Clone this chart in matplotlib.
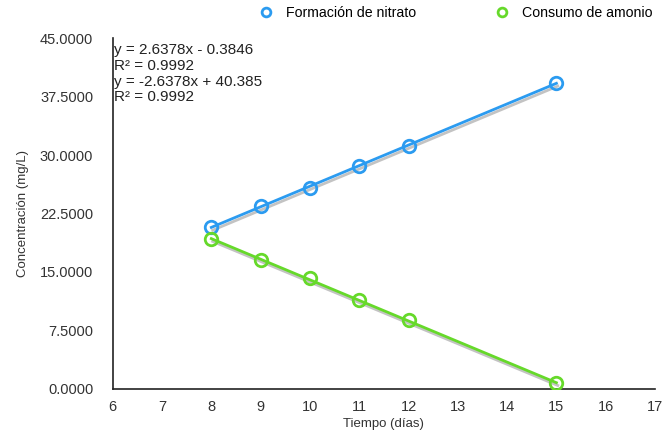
import numpy as np
import matplotlib.pyplot as plt
import matplotlib.patheffects as pe
from matplotlib.ticker import FormatStrFormatter

plt.rcParams['font.family'] = ['Liberation Sans', 'DejaVu Sans']

# datos
dias = [8, 9, 10, 11, 12, 15]
nitrato = [20.8, 23.5, 25.8, 28.6, 31.2, 39.3]
amonio = [19.2, 16.5, 14.2, 11.4, 8.8, 0.7]

azul = '#2b9bf0'
verde = '#66d92a'

fig = plt.figure(figsize=(6.67, 4.38), dpi=100)
ax = fig.add_axes([0.169, 0.112, 0.813, 0.801])

# lineas de tendencia
for y, c in [(nitrato, azul), (amonio, verde)]:
    m, b = np.polyfit(dias, y, 1)
    xs = np.array([min(dias), max(dias)])
    ax.plot(xs, m * xs + b, color=c, lw=2, zorder=2,
            path_effects=[pe.SimpleLineShadow(offset=(1, -2), shadow_color='#888888', alpha=0.5),
                          pe.Normal()])

ax.plot(dias, nitrato, 'o', mfc='none', mec=azul, mew=2, ms=9, zorder=3, label='Formación de nitrato')
ax.plot(dias, amonio, 'o', mfc='none', mec=verde, mew=2, ms=9, zorder=3, label='Consumo de amonio')

ax.set_xlim(6, 17)
ax.set_ylim(0, 45)
ax.set_xticks(range(6, 18))
ax.set_yticks(np.arange(0, 45.1, 7.5))
ax.yaxis.set_major_formatter(FormatStrFormatter('%.4f'))
ax.tick_params(length=0, labelsize=10.5, colors='#333333')
ax.tick_params(axis='y', pad=14)
ax.tick_params(axis='x', pad=8)
for s in ['top', 'right']:
    ax.spines[s].set_visible(False)
for s in ['left', 'bottom']:
    ax.spines[s].set_color('#222222')
    ax.spines[s].set_linewidth(1.2)

ax.set_xlabel('Tiempo (días)', fontsize=9.5, color='#333333', labelpad=3)
ax.set_ylabel('Concentración (mg/L)', fontsize=9.5, color='#333333', labelpad=8)

ecuaciones = 'y = 2.6378x - 0.3846\nR² = 0.9992\ny = -2.6378x + 40.385\nR² = 0.9992'
ax.text(0.002, 0.985, ecuaciones, transform=ax.transAxes, va='top', ha='left',
        fontsize=11, color='#222222', linespacing=1.15)

ax.legend(loc='lower center', bbox_to_anchor=(0.626, 1.015), ncol=2, frameon=False,
          fontsize=10.2, handletextpad=0.4, columnspacing=5.1, markerscale=0.7)

fig.savefig('out.png', dpi=100)
